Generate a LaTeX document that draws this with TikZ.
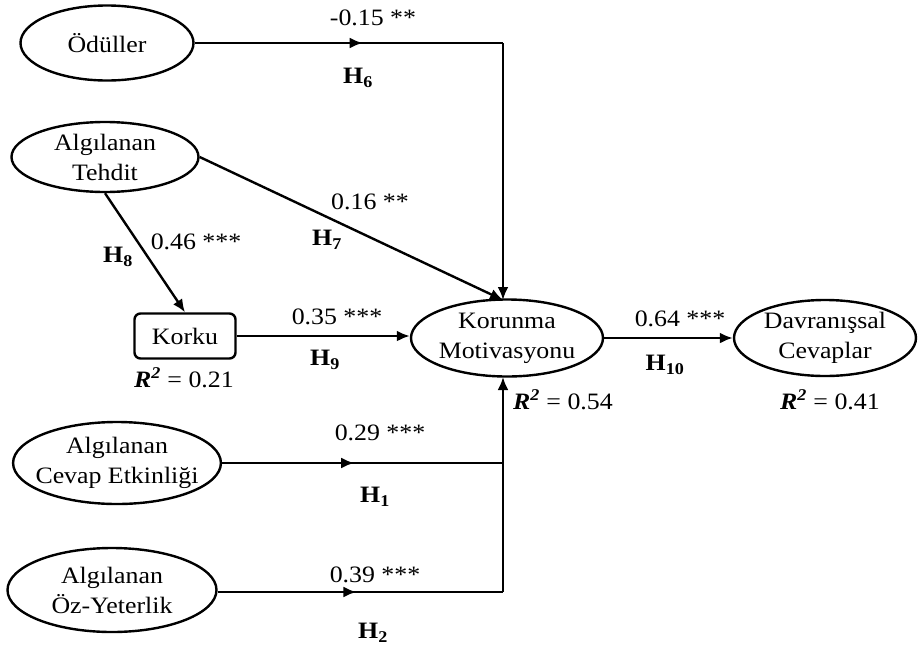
\documentclass[tikz,border=0pt]{standalone}
\usepackage{fontspec}
\setmainfont{Liberation Serif}[FakeStretch=1.1]
\usetikzlibrary{shapes.geometric,arrows.meta,decorations.markings}
\begin{document}
\begin{tikzpicture}[x=1pt,y=-1pt,
  every node/.style={font=\fontsize{23.5}{30}\selectfont},
  latent/.style={ellipse,draw,line width=2.4pt,inner sep=-8pt,align=center},
  observed/.style={rectangle,rounded corners=6pt,draw,line width=2.4pt,inner sep=0pt,minimum width=101pt,minimum height=45pt},
  path/.style={line width=2.4pt},
  tip/.style={-{Latex[length=13pt,width=11pt]}},
  midarrow/.style={postaction={decorate,decoration={markings,
      mark=at position #1 with {\arrow{Latex[length=13pt,width=11pt]}}}}},
  lbl/.style={inner sep=0pt},
]
\useasboundingbox (0,0) rectangle (918,648);

% constructs
\node[latent,minimum width=173pt,minimum height=75pt] (od) at (107,43) {Ödüller};
\node[latent,minimum width=187pt,minimum height=70pt] (teh) at (105,157) {Algılanan\\Tehdit};
\node[observed] (kor) at (185,336) {Korku};
\node[latent,minimum width=192pt,minimum height=77pt] (kmot) at (507,338) {Korunma\\Motivasyonu};
\node[latent,minimum width=182pt,minimum height=76pt] (dav) at (825,338) {Davranışsal\\Cevaplar};
\node[latent,minimum width=207pt,minimum height=82pt] (cev) at (117,463) {Algılanan\\Cevap Etkinliği};
\node[latent,minimum width=209pt,minimum height=84pt] (oz) at (112,590) {Algılanan\\Öz-Yeterlik};

% routing points
\coordinate (j1) at (503,43);
\coordinate (j2) at (503,463);
\coordinate (j3) at (503,592);
\coordinate (ktop) at (503,300);
\coordinate (kbot) at (503,377);

% paths
\draw[path,midarrow=0.545] (od.east) -- (j1);
\draw[path,tip] (j1) -- (ktop);
\draw[path,tip] (teh.east) -- (ktop);
\draw[path,tip] (teh.south) -- (kor.north);
\draw[path,tip] (kor.east) -- (kor.east -| kmot.west);
\draw[path,tip] (kmot.east) -- (kmot.east -| dav.west);
\draw[path,midarrow=0.47] (cev.east |- j2) -- (j2);
\draw[path,midarrow=0.486] (oz.east |- j3) -- (j3);
\draw[path,tip] (j3) -- (kbot);

% coefficients and hypotheses
\node[lbl] (c6) at (373,18) {-0.15 **};
\node[lbl] (h6) at (358,78) {\textbf{H\textsubscript{6}}};
\node[lbl] (c7) at (370,202) {0.16 **};
\node[lbl] (h7) at (327,240) {\textbf{H\textsubscript{7}}};
\node[lbl] (c8) at (196,242) {0.46 ***};
\node[lbl] (h8) at (118,257) {\textbf{H\textsubscript{8}}};
\node[lbl] (c9) at (337,317) {0.35 ***};
\node[lbl] (h9) at (325,360) {\textbf{H\textsubscript{9}}};
\node[lbl] (c10) at (680,319) {0.64 ***};
\node[lbl] (h10) at (665,365) {\textbf{H\textsubscript{10}}};
\node[lbl] (c1) at (380,433) {0.29 ***};
\node[lbl] (h1) at (375,497) {\textbf{H\textsubscript{1}}};
\node[lbl] (c2) at (375,575) {0.39 ***};
\node[lbl] (h2) at (373,633) {\textbf{H\textsubscript{2}}};

% explained variance
\node[lbl] (r1) at (184,378) {\textbf{\textit{R}}\textsuperscript{\textbf{\textit{2}}} = 0.21};
\node[lbl] (r2) at (563,400) {\textbf{\textit{R}}\textsuperscript{\textbf{\textit{2}}} = 0.54};
\node[lbl] (r3) at (830,400) {\textbf{\textit{R}}\textsuperscript{\textbf{\textit{2}}} = 0.41};
\end{tikzpicture}
\end{document}
